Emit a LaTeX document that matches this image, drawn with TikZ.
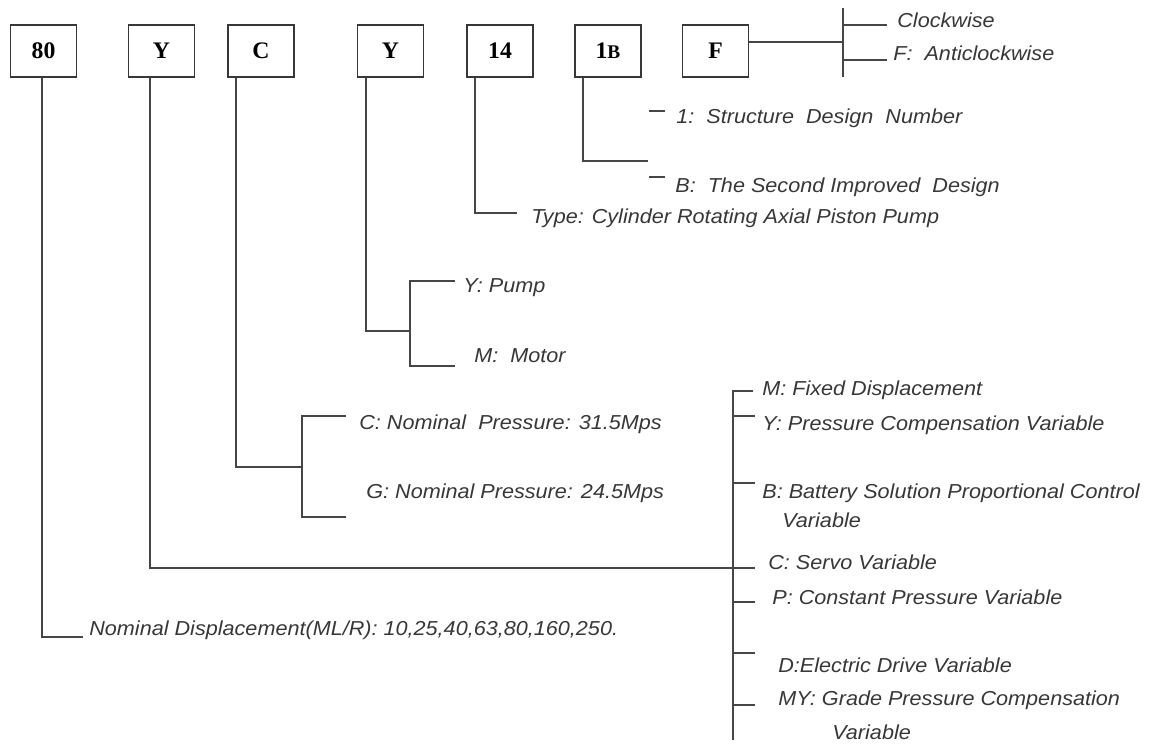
\documentclass[tikz,border=0pt]{standalone}
\usepackage{fontspec}
\setmainfont[FakeStretch=1.07]{Liberation Sans}
\newfontfamily\boxfont{Liberation Serif}
\usepackage{tikz}
\usetikzlibrary{positioning, calc}
\definecolor{mydark}{RGB}{55,55,55}
\definecolor{myline}{RGB}{70,70,70}
\tikzset{
  codebox/.style={rectangle, draw=mydark, fill=white, line width=1.1pt,
    minimum width=1.32cm, minimum height=1.04cm, inner sep=0pt,
    font=\boxfont\bfseries\fontsize{13.5}{15}\selectfont},
  lbl/.style={anchor=west, inner sep=0pt, text=mydark,
    font=\itshape\fontsize{11.5}{13}\selectfont},
  link/.style={line width=1.1pt, color=myline}
}

\begin{document}
\begin{tikzpicture}[x=0.02cm, y=-0.02cm]
  \useasboundingbox (0,0) rectangle (1157,744);

  % Code boxes
  \node[codebox] (b80) at (43.5,51) {80};
  \node[codebox] (bY) at (161.5,51) {Y};
  \node[codebox] (bC) at (261,51) {C};
  \node[codebox] (bYm) at (390.5,51) {Y};
  \node[codebox] (b14) at (500,51) {14};
  \node[codebox] (b1B) at (608,51) {1{\fontsize{11}{13}\selectfont B}};
  \node[codebox] (bF) at (715.5,51) {F};

  % Rotation (F)
  \coordinate (fjoin) at (843,42);
  \coordinate (ftop) at (843,8);
  \coordinate (fbot) at (843,77);
  \node[lbl] (cw) at (897,20) {Clockwise};
  \node[lbl] (acw) at (893,53) {F:\ \ Anticlockwise};
  \draw[link] (bF.east |- fjoin) -- (fjoin);
  \draw[link] (ftop) -- (fbot);
  \draw[link] (843,25) -- (887,25);
  \draw[link] (843,60) -- (887,60);

  % Design number (1B)
  \coordinate (e1B) at (648,161);
  \node[lbl] (tOne) at (676,118) {1:\ \ Structure\ \ Design\ \ Number};
  \node[lbl] (tTwo) at (675,187) {B:\ \ The Second Improved\ \ Design};
  \draw[link] (b1B.south west) ++(9,0) |- (e1B);
  \draw[link] (tOne.west) ++(-27,-7) -- ++(16,0);
  \draw[link] (tTwo.west) ++(-26,-10) -- ++(16,0);

  % Type (14)
  \coordinate (e14) at (517,213);
  \node[lbl] (tType) at (531,218) {Type: Cylinder Rotating Axial Piston Pump};
  \draw[link] (b14.south west) ++(9,0) |- (e14);

  % Pump / motor (Y)
  \coordinate (eYm) at (410,331);
  \coordinate (pumpTop) at (455,281);
  \coordinate (pumpBot) at (455,366);
  \node[lbl] (tPump) at (463,288) {Y: Pump};
  \node[lbl] (tMotor) at (474,356) {M:\ \ Motor};
  \draw[link] (bYm.south west) ++(9,0) |- (eYm);
  \draw[link] (pumpTop) -| (eYm) |- (pumpBot);

  % Pressure (C)
  \coordinate (eC) at (302,467);
  \coordinate (presTop) at (346,416);
  \coordinate (presBot) at (346,517);
  \node[lbl] (tC31) at (359,424) {C: Nominal\ \ Pressure: 31.5Mps};
  \node[lbl] (tG24) at (366,493) {G: Nominal Pressure: 24.5Mps};
  \draw[link] (bC.south west) ++(9,0) |- (eC);
  \draw[link] (presTop) -| (eC) |- (presBot);

  % Variable mode (Y)
  \coordinate (ctlTop) at (753,391);
  \coordinate (ctlBar) at (733,391);
  \coordinate (ctlBot) at (733,740);
  \coordinate (eY) at (755,568);
  \node[lbl] (tMv) at (762,390) {M: Fixed Displacement};
  \node[lbl] (tYv) at (762,425) {Y: Pressure Compensation Variable};
  \node[lbl] (tBv) at (762,493) {B:\ Battery Solution Proportional Control};
  \node[lbl] (tBv2) at (782,520) {Variable};
  \node[lbl] (tCv) at (768,562) {C: Servo Variable};
  \node[lbl] (tPv) at (772,597) {P: Constant Pressure Variable};
  \node[lbl] (tDv) at (778,665) {D:Electric Drive Variable};
  \node[lbl] (tMYv) at (778,700) {MY:\ Grade Pressure Compensation};
  \node[lbl] (tMYv2) at (832,732) {Variable};
  \draw[link] (bY.south west) ++(22,0) |- (eY);
  \draw[link] (ctlTop) -- (ctlBar) -- (ctlBot);
  \foreach \yy in {416,483,602,653,705}
    \draw[link] (733,\yy) -- (755,\yy);

  % Displacement (80)
  \coordinate (e80) at (83,637);
  \node[lbl] (tND) at (89,630) {Nominal Displacement(ML/R): 10,25,40,63,80,160,250.};
  \draw[link] (b80.south west) ++(32,0) |- (e80);
\end{tikzpicture}
\end{document}
